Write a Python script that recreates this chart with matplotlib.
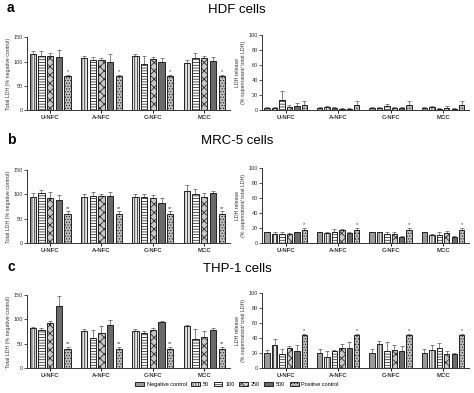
import matplotlib.pyplot as plt
import numpy as np

plt.rcParams['hatch.linewidth'] = 0.55
plt.rcParams['font.family'] = ['Liberation Sans', 'DejaVu Sans']

groups = ["U-NFC", "A-NFC", "C-NFC", "MCC"]
series = ["Negative control", "50", "100", "250", "500", "Positive control"]

# left panels: total LDH (% negative control), series 50..positive control
hdf_total = [[116, 112, 112, 110, 70], [108, 103, 104, 100, 70],
             [111, 96, 106, 99, 70], [98, 108, 107, 102, 70]]
hdf_total_err = [[5, 10, 5, 14, 3], [3, 7, 3, 15, 3],
                 [5, 16, 3, 8, 3], [5, 10, 5, 8, 3]]
mrc_total = [[94, 103, 93, 89, 60], [95, 96, 96, 97, 60],
             [94, 94, 93, 83, 60], [107, 100, 94, 102, 60]]
mrc_total_err = [[9, 7, 12, 10, 5], [5, 9, 4, 8, 5],
                 [6, 6, 5, 10, 5], [12, 11, 8, 5, 5]]
thp_total = [[83, 78, 93, 128, 39], [77, 61, 71, 88, 39],
             [77, 71, 79, 94, 39], [86, 60, 64, 79, 39]]
thp_total_err = [[2, 5, 3, 20, 5], [4, 17, 15, 10, 5],
                 [4, 6, 4, 3, 5], [2, 21, 11, 4, 5]]

# right panels: LDH release (% supernatant / total LDH), all six series
hdf_rel = [[3, 3, 14, 4, 5, 7], [3, 4, 3, 2, 2, 7],
           [3, 3, 5, 3, 3, 7], [3, 4, 2, 3, 2, 7]]
hdf_rel_err = [[1, 1, 12, 3, 5, 5], [1, 1, 1, 1, 1, 5],
               [1, 1, 3, 1, 1, 5], [1, 1, 1, 2, 1, 5]]
mrc_rel = [[14, 12, 12, 12, 14, 17], [14, 13, 15, 17, 13, 17],
           [14, 14, 12, 12, 8, 17], [14, 11, 11, 13, 8, 17]]
mrc_rel_err = [[1, 2, 2, 1, 1, 3], [1, 2, 3, 2, 1, 3],
               [1, 1, 2, 3, 1, 3], [1, 1, 3, 3, 1, 3]]
thp_rel = [[20, 31, 19, 27, 23, 44], [20, 15, 23, 27, 26, 44],
           [20, 32, 23, 24, 22, 44], [20, 24, 26, 19, 18, 44]]
thp_rel_err = [[4, 8, 6, 2, 7, 1], [5, 7, 1, 5, 8, 1],
               [5, 4, 11, 6, 7, 1], [5, 7, 7, 4, 2, 1]]

titles = ["HDF cells", "MRC-5 cells", "THP-1 cells"]
letters = ["a", "b", "c"]
left_stars = ["*", "**", "**"]

styles = {
    "Negative control": dict(color="#9a9a9a", hatch=None),
    "50": dict(color="#e4e4e4", hatch="||||||"),
    "100": dict(color="#ffffff", hatch="------"),
    "250": dict(color="#c8c8c8", hatch="xxxx"),
    "500": dict(color="#6a6a6a", hatch=None),
    "Positive control": dict(color="#c0c0c0", hatch="......"),
}


def draw_panel(ax, values, errors, names, ymax, yticks, ylabel, stars=None):
    values = np.array(values)
    errors = np.array(errors)
    n = len(names)
    x = np.arange(len(groups))
    step = 0.85 / n
    width = step * 0.72
    for i, name in enumerate(names):
        pos = x - 0.85 / 2 + step / 2 + i * step
        st = styles[name]
        ax.bar(pos, values[:, i], width=width, color=st["color"], hatch=st["hatch"],
               edgecolor="#222222", linewidth=0.7, label=name, zorder=2)
        ax.errorbar(pos, values[:, i], yerr=[np.zeros(len(groups)), errors[:, i]],
                    fmt="none", ecolor="#555555", elinewidth=0.5, capsize=1.2,
                    capthick=0.5, zorder=1)
        if stars and name == "Positive control":
            for p, v, e in zip(pos, values[:, i], errors[:, i]):
                ax.text(p, v + e + ymax * 0.01, stars, ha="center", va="bottom",
                        fontsize=4, color="#333333")
    ax.set_xlim(-0.45, 3.5)
    ax.set_ylim(0, ymax)
    ax.set_yticks(yticks)
    ax.set_xticks(x)
    ax.set_xticklabels(groups, fontsize=4.3, fontweight="bold", color="#333333")
    ax.tick_params(axis="y", labelsize=4, length=2, width=0.6, pad=1, colors="#333333")
    ax.tick_params(axis="x", length=2, width=0.6, pad=1.5)
    ax.set_ylabel(ylabel, fontsize=3.8, labelpad=2, color="#333333")
    for s in ["top", "right"]:
        ax.spines[s].set_visible(False)
    for s in ["left", "bottom"]:
        ax.spines[s].set_linewidth(0.7)
        ax.spines[s].set_color("#333333")


fig = plt.figure(figsize=(4.74, 3.93), dpi=100)

totals = [(hdf_total, hdf_total_err), (mrc_total, mrc_total_err), (thp_total, thp_total_err)]
releases = [(hdf_rel, hdf_rel_err), (mrc_rel, mrc_rel_err), (thp_rel, thp_rel_err)]
bottoms = [0.720, 0.382, 0.064]
height = 0.185
title_y = [0.974, 0.640, 0.315]

for k in range(3):
    axl = fig.add_axes([0.057, bottoms[k], 0.428, height])
    draw_panel(axl, totals[k][0], totals[k][1], series[1:], 150, [0, 50, 100, 150],
               "Total LDH (% negative control)", stars=left_stars[k])
    axr = fig.add_axes([0.553, bottoms[k], 0.437, height + 0.006])
    draw_panel(axr, releases[k][0], releases[k][1], series, 100, [0, 20, 40, 60, 80, 100],
               "LDH release\n(% supernatant/ total LDH)",
               stars="*" if k > 0 else None)
    fig.text(0.5, title_y[k], titles[k], ha="center", va="center", fontsize=9.5)
    fig.text(0.015, title_y[k] + 0.005, letters[k], ha="left", va="center",
             fontsize=10, fontweight="bold")

handles, labels = axr.get_legend_handles_labels()
fig.legend(handles, labels, loc="center", bbox_to_anchor=(0.5, 0.022), ncol=6,
           fontsize=4, frameon=False, handlelength=1.6, handleheight=0.8,
           columnspacing=0.8, handletextpad=0.5)

fig.savefig("out.png", dpi=100)
